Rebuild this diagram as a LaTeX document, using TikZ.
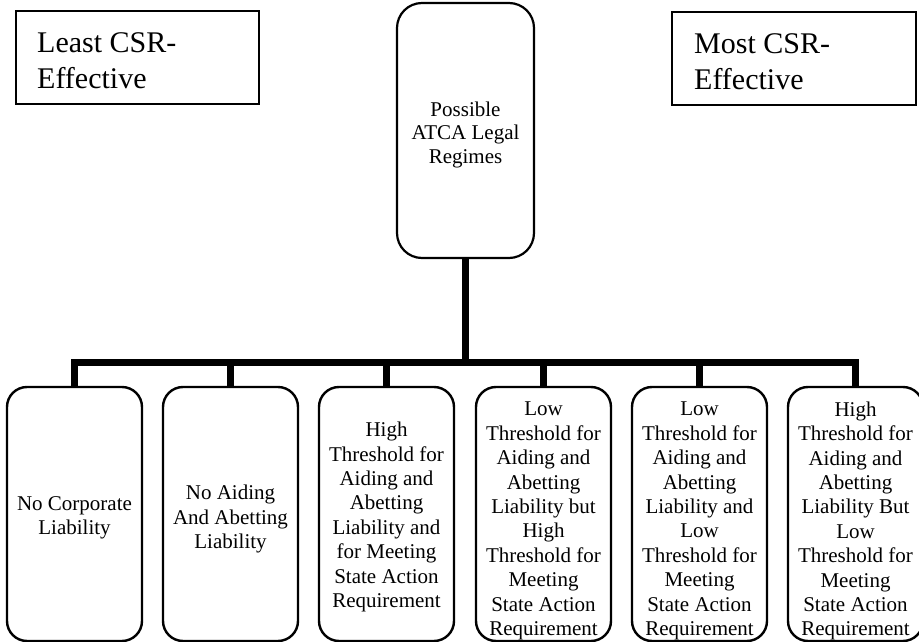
\documentclass[tikz,border=0pt]{standalone}
\usepackage{fontspec}
\setmainfont{Liberation Serif}
\begin{document}
\begin{tikzpicture}[x=1pt,y=-1pt,
  endbox/.style={draw, line width=2pt, rectangle, minimum width=243pt, minimum height=93pt,
    inner sep=0pt},
  endtext/.style={anchor=west, inner sep=0pt, align=left, font=\fontsize{30}{36}\selectfont},
  rootbox/.style={draw, line width=2.2pt, rounded corners=25pt, minimum width=137pt,
    minimum height=255pt, inner sep=0pt},
  roottext/.style={inner sep=0pt, align=center, font=\fontsize{21}{23.5}\selectfont},
  leafbox/.style={draw, line width=2.4pt, rounded corners=20pt, minimum width=135pt,
    minimum height=254pt, inner sep=0pt},
  leaftext/.style={inner sep=0pt, align=center, font=\fontsize{21}{24.4}\selectfont},
  conn/.style={line width=6.5pt, line join=miter}]
\useasboundingbox (0,0) rectangle (919,642);

\node[endbox] (least) at (137.5,57.5) {};
\node[endtext] (leastt) at (37,60.5) {Least CSR-\\Effective};
\node[endbox, minimum width=244pt] (most) at (794,58.5) {};
\node[endtext] (mostt) at (694,61.5) {Most CSR-\\Effective};

\node[rootbox] (root) at (465.5,130.5) {};
\node[roottext] (roott) at (465.5,134.5) {Possible\\ATCA Legal\\Regimes};

\coordinate (j) at (465.5,362.5);

\foreach \n/\x in {1/74.5,2/230.5,3/386.5,4/543.5,5/699.5,6/855.5}{
  \node[leafbox] (b\n) at (\x,514) {};
}
\node[leaftext] (t1) at (74.5,518) {No Corporate\\Liability};
\node[leaftext] (t2) at (230.5,519) {No Aiding\\And Abetting\\Liability};
\node[leaftext] (t3) at (386.5,517) {High\\Threshold for\\Aiding and\\Abetting\\Liability and\\for Meeting\\State Action\\Requirement};
\node[leaftext] (t4) at (543.5,521) {Low\\Threshold for\\Aiding and\\Abetting\\Liability but\\High\\Threshold for\\Meeting\\State Action\\Requirement};
\node[leaftext] (t5) at (699.5,521) {Low\\Threshold for\\Aiding and\\Abetting\\Liability and\\Low\\Threshold for\\Meeting\\State Action\\Requirement};
\node[leaftext] (t6) at (855.5,521) {High\\Threshold for\\Aiding and\\Abetting\\Liability But\\Low\\Threshold for\\Meeting\\State Action\\Requirement};

\draw[conn] (root.south) -- (j);
\foreach \b in {b1,b2,b3,b4,b5,b6}{
  \draw[conn] (\b.north) |- (j);
}
\end{tikzpicture}
\end{document}
